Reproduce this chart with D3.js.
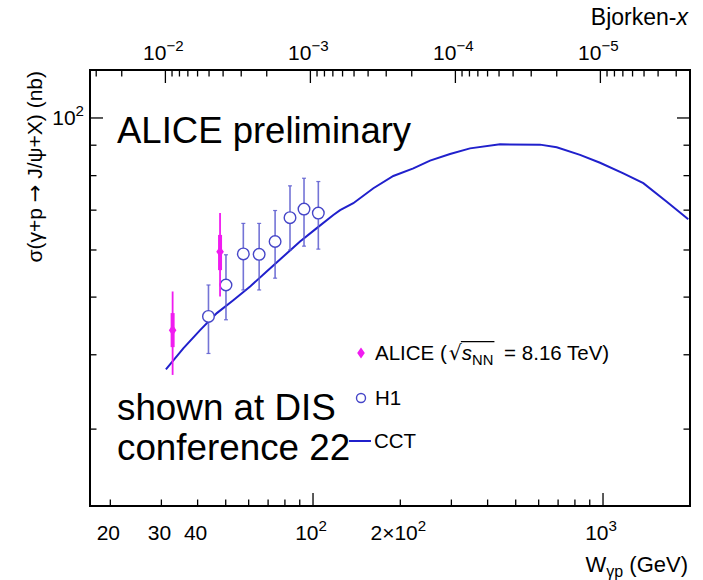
<!DOCTYPE html>
<html><head><meta charset="utf-8">
<script src="https://cdn.jsdelivr.net/npm/d3@7"></script>
<style>
body{margin:0;background:#fff}
text{font-family:"Liberation Sans",Arial,Helvetica,sans-serif;fill:#000}
</style>
</head><body>
<svg id="c" width="703" height="580"></svg>
<script>
// ---------------- data ----------------
const aliceW      = [32.8, 47.8];
const aliceSigma  = [44.0, 59.6];
const aliceStatLo = [37.0, 50.1];
const aliceStatHi = [51.1, 69.2];
const aliceSystLo = [41.2, 55.5];
const aliceSystHi = [47.0, 63.6];

const h1W     = [43.6, 50.1, 57.5, 65.2, 74.0, 83.3, 93.1, 104.3];
const h1Sigma = [46.4, 52.4, 59.1, 59.0, 62.0, 68.0, 70.3, 69.2];
const h1Lo    = [40.2, 45.8, 51.4, 51.4, 53.8, 60.0, 60.9, 60.2];
const h1Hi    = [52.4, 58.9, 66.5, 66.5, 69.9, 76.9, 79.2, 78.2];

const cctW     = [31.1, 35.7, 40.8, 46.6, 53.1, 60.7, 69.2, 79.0, 90.2, 103.0, 117.5, 124.0, 137.7, 161.5, 189.2, 221.8, 253.2, 296.8, 347.8, 441.4, 606.5, 692.3, 833.1, 976.5, 1175, 1377, 1659, 1968];
const cctSigma = [37.8, 41.0, 44.0, 47.0, 49.4, 52.1, 55.2, 58.5, 62.0, 65.3, 68.7, 70.0, 71.9, 76.2, 79.9, 82.3, 84.8, 87.0, 88.9, 90.3, 90.2, 89.3, 86.7, 84.1, 80.7, 77.7, 72.3, 67.6];

const wLabelValues = [20, 30, 40, 100, 200, 1000];
const wLabelTexts  = ["20", "30", "40", "10^2", "2×10^2", "10^3"];
const xbLabelValues = [1e-2, 1e-3, 1e-4, 1e-5];
const xbLabelTexts  = ["10^−2", "10^−3", "10^−4", "10^−5"];
const yLabelValues = [100];
const yLabelTexts  = ["10^2"];

const MJPSI = 3.097;
const wDomain = [17.02, 1995];
const yDomain = [22.28, 120.4];

// ---------------- layout ----------------
const L = 90, R = 690, T = 70, B = 506;
const svg = d3.select("#c");
const x = d3.scaleLog().domain(wDomain).range([L, R]);
const xb = d3.scaleLog().domain(wDomain.map(w => (MJPSI / w) ** 2)).range([L, R]);
const y = d3.scaleLog().domain(yDomain).range([B, T]);

function supText(g, str, fs) {
  const parts = str.split("^");
  const t = g.append("text").attr("font-size", fs);
  t.append("tspan").text(parts[0]);
  if (parts[1]) t.append("tspan").attr("dy", -fs * 0.42).attr("font-size", fs * 0.72).text(parts[1]);
  return t;
}
const isMajor = v => Math.abs(Math.log10(v) - Math.round(Math.log10(v))) < 1e-6;

// ---------------- data marks ----------------
const plot = svg.append("g");
plot.append("path")
  .attr("d", d3.line().x(d => x(d[0])).y(d => y(d[1]))(cctW.map((w, i) => [w, cctSigma[i]])))
  .attr("fill", "none").attr("stroke", "#2020cc").attr("stroke-width", 2);

const h1c = "#5c5cd0";
h1W.forEach((w, i) => {
  plot.append("line").attr("x1", x(w)).attr("x2", x(w)).attr("y1", y(h1Lo[i])).attr("y2", y(h1Hi[i]))
    .attr("stroke", h1c).attr("stroke-width", 1.6).attr("opacity", 0.85);
  [h1Lo[i], h1Hi[i]].forEach(v => plot.append("line").attr("x1", x(w) - 2).attr("x2", x(w) + 2)
    .attr("y1", y(v)).attr("y2", y(v)).attr("stroke", h1c).attr("stroke-width", 1.2).attr("opacity", 0.85));
});
h1W.forEach((w, i) => {
  plot.append("circle").attr("cx", x(w)).attr("cy", y(h1Sigma[i])).attr("r", 5.8)
    .attr("fill", "#fff").attr("stroke", "#4646c8").attr("stroke-width", 1.4);
});

const ac = "#f01cf0";
aliceW.forEach((w, i) => {
  plot.append("line").attr("x1", x(w)).attr("x2", x(w)).attr("y1", y(aliceStatLo[i])).attr("y2", y(aliceStatHi[i]))
    .attr("stroke", ac).attr("stroke-width", 1.8);
  plot.append("line").attr("x1", x(w)).attr("x2", x(w)).attr("y1", y(aliceSystLo[i])).attr("y2", y(aliceSystHi[i]))
    .attr("stroke", ac).attr("stroke-width", 4);
  plot.append("path").attr("transform", `translate(${x(w)},${y(aliceSigma[i])})`)
    .attr("d", "M0,-5.5L3.8,0L0,5.5L-3.8,0Z").attr("fill", ac);
});

// ---------------- frame & axes ----------------
const ax = svg.append("g").attr("stroke", "#000").attr("stroke-width", 1.3);
svg.append("rect").attr("x", L).attr("y", T).attr("width", R - L).attr("height", B - T)
  .attr("fill", "none").attr("stroke", "#000").attr("stroke-width", 2);

x.ticks().forEach(v => {
  const len = isMajor(v) ? 13 : 6.5;
  ax.append("line").attr("x1", x(v)).attr("x2", x(v)).attr("y1", B).attr("y2", B - len);
});
xb.ticks().forEach(v => {
  const len = isMajor(v) ? 13 : 6.5;
  ax.append("line").attr("x1", xb(v)).attr("x2", xb(v)).attr("y1", T).attr("y2", T + len);
});
y.ticks().forEach(v => {
  const len = isMajor(v) ? 13 : 6.5;
  ax.append("line").attr("x1", L).attr("x2", L + len).attr("y1", y(v)).attr("y2", y(v));
  ax.append("line").attr("x1", R).attr("x2", R - len).attr("y1", y(v)).attr("y2", y(v));
});

const fsT = 21;
wLabelValues.forEach((v, i) => {
  supText(svg, wLabelTexts[i], fsT).attr("x", x(v) - 2).attr("y", 540).attr("text-anchor", "middle");
});
xbLabelValues.forEach((v, i) => {
  supText(svg, xbLabelTexts[i], fsT).attr("x", xb(v) - 2).attr("y", 60).attr("text-anchor", "middle");
});
yLabelValues.forEach((v, i) => {
  supText(svg, yLabelTexts[i], fsT).attr("x", 84).attr("y", y(v) + 7).attr("text-anchor", "end");
});

// axis titles
const bt = svg.append("text").attr("x", 688).attr("y", 25).attr("text-anchor", "end").attr("font-size", 23);
bt.append("tspan").text("Bjorken-");
bt.append("tspan").attr("font-style", "italic").text("x");

const wt = svg.append("text").attr("x", 688).attr("y", 572).attr("text-anchor", "end").attr("font-size", 22);
wt.append("tspan").text("W");
wt.append("tspan").attr("dy", 5).attr("font-size", 16).text("γp");
wt.append("tspan").attr("dy", -5).text(" (GeV)");

const yt = svg.append("text").attr("transform", "translate(42,71) rotate(-90)").attr("text-anchor", "end")
  .attr("font-size", 21);
yt.append("tspan").text("σ(γ+p ");
yt.append("tspan").attr("font-family", "DejaVu Sans").text("→");
yt.append("tspan").text(" J/ψ+X) (nb)");

// annotations
svg.append("text").attr("x", 117).attr("y", 143).attr("font-size", 36.5).text("ALICE preliminary");
svg.append("text").attr("x", 117).attr("y", 420).attr("font-size", 36.8).text("shown at DIS");
svg.append("text").attr("x", 117).attr("y", 460).attr("font-size", 36.8).text("conference 22");

// legend
const fsL = 20.5;
const lg = svg.append("g");
lg.append("path").attr("transform", "translate(361,353)").attr("d", "M0,-5.5L3.8,0L0,5.5L-3.8,0Z").attr("fill", ac);
const lt = lg.append("text").attr("x", 375).attr("y", 360).attr("font-size", fsL);
lt.append("tspan").text("ALICE (");
lt.append("tspan").attr("dx", 2).attr("font-family", "DejaVu Sans").text("√");
lt.append("tspan").attr("font-style", "italic").text("s");
lt.append("tspan").attr("dy", 5).attr("font-size", fsL * 0.72).text("NN");
lt.append("tspan").attr("dy", -5).attr("dx", 5).text(" = 8.16 TeV)");
{
  const node = lt.node();
  const x0 = node.getEndPositionOfChar(7).x;
  const x1 = node.getEndPositionOfChar(10).x + 1;
  lg.append("line").attr("x1", x0 - 1).attr("x2", x1).attr("y1", 360 - fsL * 0.9).attr("y2", 360 - fsL * 0.9)
    .attr("stroke", "#000").attr("stroke-width", 1.2);
}
lg.append("circle").attr("cx", 361).attr("cy", 398).attr("r", 4.5).attr("fill", "#fff").attr("stroke", "#4646c8").attr("stroke-width", 1.4);
lg.append("text").attr("x", 375).attr("y", 405).attr("font-size", fsL).text("H1");
lg.append("line").attr("x1", 349).attr("x2", 371).attr("y1", 441).attr("y2", 441).attr("stroke", "#2020cc").attr("stroke-width", 2);
lg.append("text").attr("x", 374).attr("y", 448).attr("font-size", fsL).text("CCT");
</script>
</body></html>
